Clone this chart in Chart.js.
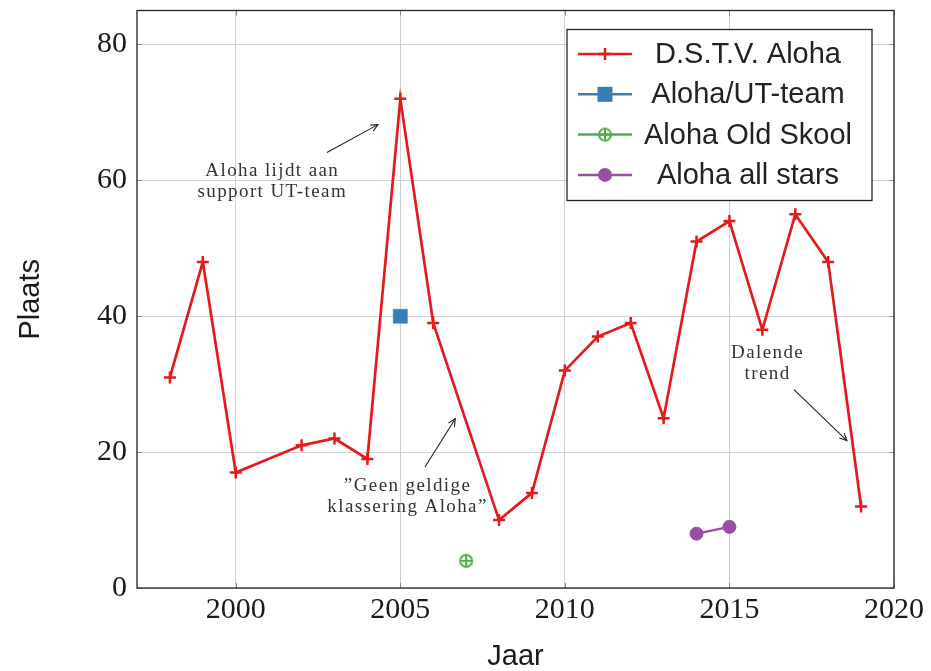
<!DOCTYPE html>
<html><head><meta charset="utf-8">
<script src="https://cdn.jsdelivr.net/npm/chart.js@4"></script>
<style>html,body{margin:0;padding:0;background:#fff}#wrap{width:931px;height:671px}</style>
</head><body><div id="wrap"><canvas id="c" width="931" height="671"></canvas></div>
<script>
// ---- data ----
const alohaYears = [1998,1999,2000,2002,2003,2004,2005,2006,2008,2009,2010,2011,2012,2013,2014,2015,2016,2017,2018,2019];
const alohaPlaats = [31,48,17,21,22,19,72,39,10,14,32,37,39,25,51,54,38,55,48,12];
const utYears = [2005];
const utPlaats = [40];
const oldYears = [2007];
const oldPlaats = [4];
const starsYears = [2014,2015];
const starsPlaats = [8,9];
const seriesNames = ['D.S.T.V. Aloha','Aloha/UT-team','Aloha Old Skool','Aloha all stars'];
const xTicks = [2000,2005,2010,2015,2020];
const yTicks = [0,20,40,60,80];
const xTitle = 'Jaar';
const yTitle = 'Plaats';
// annotations: text lines, text centre (data units), arrow from -> to (data units)
const noteTexts = [['Aloha lijdt aan','support UT-team'],['\u201DGeen geldige','klassering Aloha\u201D'],['Dalende','trend']];
const noteAt = [[2001.08,59.9],[2005.19,13.5],[2016.13,33.1]];
const arrowFrom = [[2002.77,64.1],[2005.75,17.8],[2016.96,29.2]];
const arrowTo = [[2004.32,68.2],[2006.67,24.9],[2018.57,21.7]];

const RED='#e41a1c', BLUE='#377eb8', GREEN='#4daf4a', PURPLE='#984ea3';
const pts = (xs,ys)=>xs.map((x,i)=>({x:x,y:ys[i]}));

function oplus(){
  const c=document.createElement('canvas'); c.width=16;c.height=16;
  const g=c.getContext('2d'); g.strokeStyle=GREEN; g.lineWidth=2;
  g.beginPath(); g.arc(8,8,6,0,Math.PI*2); g.stroke();
  g.beginPath(); g.moveTo(2,8);g.lineTo(14,8);g.moveTo(8,2);g.lineTo(8,14); g.stroke();
  return c;
}
const oplusImg = oplus();

const serif = 'Liberation Serif';
const sans = 'Liberation Sans';

const framePlugin = {
  id:'frame',
  afterDraw(chart){
    const ctx=chart.ctx, a=chart.chartArea, xs=chart.scales.x, ys=chart.scales.y;
    ctx.save();
    // inner tick marks
    ctx.strokeStyle='#8a8a8a'; ctx.lineWidth=1;
    xTicks.forEach(t=>{const px=Math.round(xs.getPixelForValue(t))+0.5;
      ctx.beginPath();ctx.moveTo(px,a.bottom);ctx.lineTo(px,a.bottom-5);ctx.moveTo(px,a.top);ctx.lineTo(px,a.top+5);ctx.stroke();});
    yTicks.forEach(t=>{const py=Math.round(ys.getPixelForValue(t))+0.5;
      ctx.beginPath();ctx.moveTo(a.left,py);ctx.lineTo(a.left+5,py);ctx.moveTo(a.right,py);ctx.lineTo(a.right-5,py);ctx.stroke();});
    // frame
    ctx.strokeStyle='#222'; ctx.lineWidth=1.3;
    ctx.strokeRect(a.left,a.top,a.right-a.left,a.bottom-a.top);
    // annotations
    ctx.fillStyle='#333'; ctx.font='19px "'+serif+'"'; ctx.textAlign='center'; ctx.textBaseline='middle';
    try{ctx.letterSpacing='1.4px';}catch(e){}
    noteTexts.forEach((lines,i)=>{
      const cx=xs.getPixelForValue(noteAt[i][0]), cy=ys.getPixelForValue(noteAt[i][1]);
      const lh=21, y0=cy-lh*(lines.length-1)/2;
      lines.forEach((l,j)=>ctx.fillText(l,cx+1,y0+j*lh));
    });
    try{ctx.letterSpacing='0px';}catch(e){}
    ctx.strokeStyle='#222'; ctx.lineWidth=1.1;
    arrowFrom.forEach((f,i)=>{
      const x1=xs.getPixelForValue(f[0]), y1=ys.getPixelForValue(f[1]);
      const x2=xs.getPixelForValue(arrowTo[i][0]), y2=ys.getPixelForValue(arrowTo[i][1]);
      const ang=Math.atan2(y2-y1,x2-x1), L=8, s=0.45;
      ctx.beginPath(); ctx.moveTo(x1,y1); ctx.lineTo(x2,y2); ctx.stroke();
      ctx.beginPath();
      ctx.moveTo(x2-L*Math.cos(ang-s),y2-L*Math.sin(ang-s)); ctx.lineTo(x2,y2);
      ctx.lineTo(x2-L*Math.cos(ang+s),y2-L*Math.sin(ang+s)); ctx.stroke();
    });
    // legend
    const bw=305, bh=171, bx=a.right-22-bw, by=a.top+19;
    ctx.fillStyle='#fff'; ctx.fillRect(bx,by,bw,bh);
    ctx.strokeStyle='#222'; ctx.lineWidth=1.3; ctx.strokeRect(bx,by,bw,bh);
    ctx.font='29px "'+sans+'"'; ctx.textAlign='center'; ctx.textBaseline='middle';
    chart.data.datasets.forEach((ds,i)=>{
      const cy=by+24.5+i*40.3;
      ctx.strokeStyle=ds.borderColor; ctx.lineWidth=2.5;
      ctx.beginPath(); ctx.moveTo(bx+11,cy); ctx.lineTo(bx+65,cy); ctx.stroke();
      const mx=bx+38;
      if(i===0){ctx.lineWidth=2.5;ctx.beginPath();ctx.moveTo(mx-6,cy);ctx.lineTo(mx+6,cy);ctx.moveTo(mx,cy-6);ctx.lineTo(mx,cy+6);ctx.stroke();}
      else if(i===1){ctx.fillStyle=BLUE;ctx.fillRect(mx-7.5,cy-7.5,15,15);}
      else if(i===2){ctx.drawImage(oplusImg,mx-8,cy-8);}
      else {ctx.fillStyle=PURPLE;ctx.beginPath();ctx.arc(mx,cy,7,0,Math.PI*2);ctx.fill();}
      ctx.fillStyle='#222'; ctx.fillText(ds.label,bx+181,cy+1);
    });
    ctx.restore();
  }
};

new Chart(document.getElementById('c'),{
  type:'line',
  data:{datasets:[
    {label:seriesNames[0],data:pts(alohaYears,alohaPlaats),borderColor:RED,backgroundColor:RED,borderWidth:2.7,
      pointStyle:'cross',pointRadius:6,pointBorderWidth:2.5,tension:0},
    {label:seriesNames[1],data:pts(utYears,utPlaats),borderColor:BLUE,backgroundColor:BLUE,borderWidth:2.5,
      pointStyle:'rect',pointRadius:10,pointBorderWidth:0.5},
    {label:seriesNames[2],data:pts(oldYears,oldPlaats),borderColor:GREEN,backgroundColor:GREEN,borderWidth:2.5,
      pointStyle:oplusImg},
    {label:seriesNames[3],data:pts(starsYears,starsPlaats),borderColor:PURPLE,backgroundColor:PURPLE,borderWidth:2.5,
      pointStyle:'circle',pointRadius:6.5,pointBorderWidth:1}
  ]},
  options:{
    responsive:false, animation:false, devicePixelRatio:1,
    layout:{padding:{left:0,right:37,top:10,bottom:0}},
    plugins:{legend:{display:false},tooltip:{enabled:false}},
    scales:{
      x:{type:'linear',min:1997,max:2020,
        afterBuildTicks:s=>{s.ticks=xTicks.map(v=>({value:v}));},
        afterFit:s=>{s.height=83;},
        grid:{color:'#cfcfcf',lineWidth:1,drawTicks:false},
        border:{display:false},
        ticks:{padding:4,color:'#1a1a1a',font:{family:serif,size:30},callback:v=>String(v),maxRotation:0},
        title:{display:true,text:xTitle,color:'#1a1a1a',font:{family:sans,size:29,lineHeight:1},padding:{top:0,bottom:0}}
      },
      y:{type:'linear',min:0,max:85,
        afterBuildTicks:s=>{s.ticks=yTicks.map(v=>({value:v}));},
        afterFit:s=>{s.width=137;s.paddingTop=0;s.paddingBottom=0;},
        grid:{color:'#cfcfcf',lineWidth:1,drawTicks:false},
        border:{display:false},
        ticks:{padding:10,color:'#1a1a1a',font:{family:serif,size:30},callback:v=>String(v)},
        title:{display:true,text:yTitle,color:'#1a1a1a',font:{family:sans,size:29,lineHeight:1},padding:{top:16.5,bottom:0}}
      }
    }
  },
  plugins:[framePlugin]
});
</script></body></html>
